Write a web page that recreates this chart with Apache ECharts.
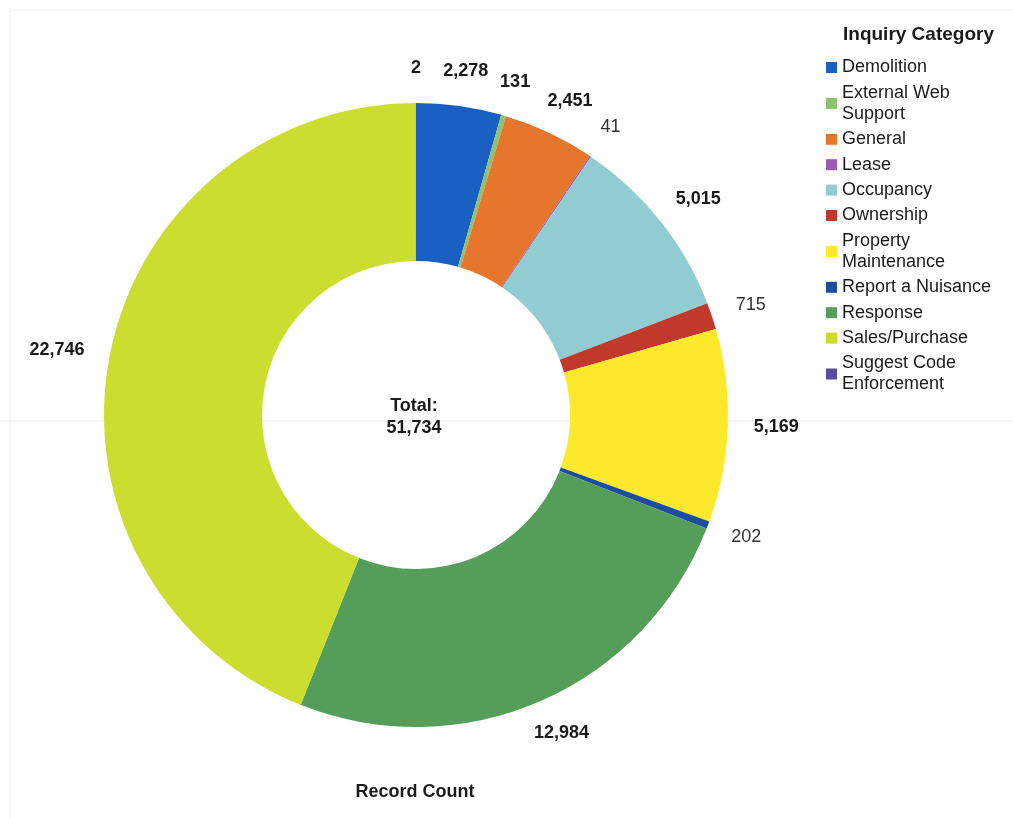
<!DOCTYPE html>
<html>
<head>
<meta charset="utf-8">
<script src="https://cdn.jsdelivr.net/npm/echarts@6/dist/echarts.min.js"></script>
<style>
html,body{margin:0;padding:0;background:#fff;}
#chart{width:1013px;height:818px;}
</style>
</head>
<body>
<div id="chart"></div>
<script>
// ---- data ----
const categories = ["Demolition","External Web Support","General","Lease","Occupancy","Ownership","Property Maintenance","Report a Nuisance","Response","Sales/Purchase","Suggest Code Enforcement"];
const legendLabels = ["Demolition","External Web\nSupport","General","Lease","Occupancy","Ownership","Property\nMaintenance","Report a Nuisance","Response","Sales/Purchase","Suggest Code\nEnforcement"];
const recordCounts = [2278,131,2451,41,5015,715,5169,202,12984,22746,2];
const colors = ["#1a60c2","#8dc26f","#e5762c","#9e5bb0","#92ccd3","#c0392b","#fde92b","#1d4e9e","#559e5a","#cbdd2e","#5a4ba0"];
const lightLabels = ["Lease","Ownership","Report a Nuisance"];

const total = recordCounts.reduce((a,b)=>a+b,0);
const fmt = v => v.toLocaleString('en-US');
const FONT = '"Liberation Sans", Arial, sans-serif';
const GAP = 26;
const LINE_H = 21;

const chart = echarts.init(document.getElementById('chart'));
chart.setOption({
  animation:false,
  backgroundColor:'#fff',
  color: colors,
  title:[
    {text:'Inquiry Category', left:843, top:25, padding:0, textStyle:{fontFamily:FONT,fontSize:19,fontWeight:'bold',color:'#1a1a1a'}},
    {text:'Total:\n' + fmt(total), left:414, top:395, padding:0, textAlign:'center',
      textStyle:{fontFamily:FONT,fontSize:18,fontWeight:'bold',color:'#1a1a1a',lineHeight:22}},
    {text:'Record Count', left:415, top:783, padding:0, textAlign:'center', textStyle:{fontFamily:FONT,fontSize:18,fontWeight:'bold',color:'#1a1a1a'}}
  ],
  legend:{
    orient:'vertical', left:826, top:57, padding:0,
    itemWidth:11, itemHeight:11, itemGap:4.4,
    icon:'rect',
    data: categories,
    formatter: name => legendLabels[categories.indexOf(name)],
    textStyle:{fontFamily:FONT,fontSize:18,color:'#1a1a1a',lineHeight:LINE_H}
  },
  graphic:[
    {type:'line', shape:{x1:0,y1:421,x2:1013,y2:421}, style:{stroke:'#e6e6e6',lineWidth:1}, z:-1},
    {type:'line', shape:{x1:10,y1:10,x2:1013,y2:10}, style:{stroke:'#efefef',lineWidth:1}, z:-1},
    {type:'line', shape:{x1:10,y1:10,x2:10,y2:818}, style:{stroke:'#efefef',lineWidth:1}, z:-1}
  ],
  series:[{
    type:'pie',
    center:[416,415],
    radius:[154,312],
    startAngle:90,
    clockwise:true,
    avoidLabelOverlap:false,
    itemStyle:{borderWidth:0},
    label:{show:true, position:'outside', fontFamily:FONT, fontSize:18, fontWeight:'bold', color:'#1a1a1a',
      formatter: p => fmt(p.value)},
    labelLine:{show:true, length:10, length2:0, lineStyle:{opacity:0}},
    labelLayout: function(params){
      const pts = params.labelLinePoints;
      if(!pts) return {};
      const p0 = pts[0], p1 = pts[1];
      let dx = p1[0]-p0[0], dy = p1[1]-p0[1];
      const len = Math.sqrt(dx*dx+dy*dy) || 1;
      dx/=len; dy/=len;
      const w = params.labelRect.width, h = params.labelRect.height;
      return {
        x: p0[0] + dx*(GAP + w/2),
        y: p0[1] + dy*(GAP + h/2),
        align:'center', verticalAlign:'middle'
      };
    },
    emphasis:{disabled:true},
    data: categories.map((c,i)=>({
      name:c, value:recordCounts[i],
      label: lightLabels.includes(c) ? {fontWeight:'normal', color:'#333'} : undefined
    }))
  }]
});
</script>
</body>
</html>
